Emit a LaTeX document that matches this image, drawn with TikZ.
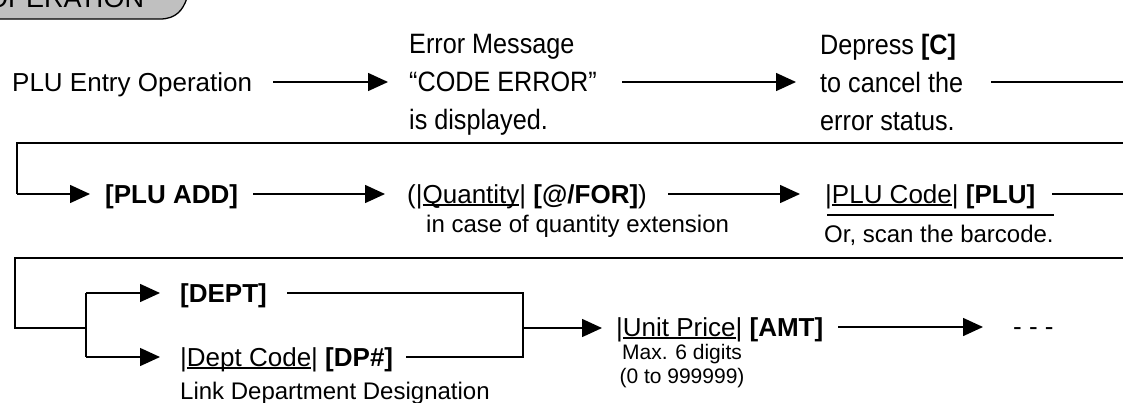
\documentclass[tikz,border=0pt]{standalone}
\usepackage{fontspec}
\setmainfont{Liberation Sans}
\newfontfamily\narrowfont[FakeStretch=0.9]{Liberation Sans}
\usetikzlibrary{arrows.meta}
\definecolor{tabgray}{RGB}{192,192,192}
\newcommand\ulx[1]{\setbox0=\hbox{#1}\rlap{\rule[-2.5pt]{\wd0}{1.2pt}}\box0}
\tikzset{
  conn/.style={line width=1.5pt},
  arr/.style={conn, -{Triangle[length=20pt,width=18pt]}},
  txt/.style={inner sep=0pt, font=\fontsize{26}{36}\selectfont},
  ntxt/.style={inner sep=0pt, font=\narrowfont\fontsize{28}{38}\selectfont},
  note/.style={inner sep=0pt, font=\fontsize{24}{28}\selectfont},
  small/.style={inner sep=0pt, font=\fontsize{21}{24}\selectfont},
  rulestyle/.style={line width=1.5pt}
}
\begin{document}
\begin{tikzpicture}[x=1pt,y=-1pt]
\useasboundingbox (0,0) rectangle (1123,402);
\begin{scope}
\clip (0,0) rectangle (1123,402);
% tab
\draw[line width=1.3pt, fill=tabgray] (-30,-40) -- (-30,19) -- (160,19)
  .. controls (176,19) and (183,10) .. (187,-2) -- (190,-40) -- cycle;
\node[inner sep=0pt, font=\fontsize{27}{27}\selectfont, anchor=base west] (tab) at (-13,7) {OPERATION};

% row coordinates
\coordinate (r1) at (0,82);
\coordinate (r2) at (0,194);
\coordinate (r3) at (0,327);
\coordinate (r3a) at (0,293);
\coordinate (r3b) at (0,357);
\coordinate (e1) at (1130,82);
\coordinate (t2r) at (1130,143);
\coordinate (t2l) at (17,143);
\coordinate (e2) at (1130,194);
\coordinate (t3r) at (1130,258);
\coordinate (t3l) at (15,258);
\coordinate (br) at (86,328);
\coordinate (mj) at (523,328);

% row 1
\node[txt, anchor=base west] (entry) at (12,91) {PLU Entry Operation};
\node[ntxt, anchor=north west, align=left] (err) at (409,34) {Error Message\\“CODE ERROR”\\is displayed.};
\node[ntxt, anchor=north west, align=left] (dep) at (820,33.6) {Depress \textbf{[C]}\\to cancel the\\error status.};
\draw[arr] ([xshift=21pt]entry.east |- r1) -- ([xshift=-21pt]err.west |- r1);
\draw[arr] ([xshift=25pt]err.east |- r1) -- ([xshift=-24pt]dep.west |- r1);
\draw[conn] ([xshift=28pt]dep.east |- r1) -- (e1);

% row 2
\node[txt, anchor=base west] (add) at (105,203) {\textbf{[PLU ADD]}};
\node[txt, anchor=base west] (qty) at (407,203) {(|\ulx{Quantity}| \textbf{[@/FOR]})};
\node[note, anchor=base west] (qtynote) at (426,232.6) {in case of quantity extension};
\node[txt, anchor=base west] (code) at (825,203) {|\ulx{PLU Code}| \textbf{[PLU]}};
\node[note, anchor=base west] (scan) at (824,242.6) {Or, scan the barcode.};
\draw[conn] (t2r) -- (t2l) -- (t2l |- r2);
\draw[arr] (t2l |- r2) -- ([xshift=-15pt]add.west |- r2);
\draw[arr] ([xshift=15pt]add.east |- r2) -- ([xshift=-22pt]qty.west |- r2);
\draw[arr] ([xshift=21pt]qty.east |- r2) -- ([xshift=-25pt]code.west |- r2);
\draw[conn] ([xshift=17pt]code.east |- r2) -- (e2);
\draw[rulestyle] ([xshift=3pt,yshift=10pt]scan.north west) -- ([yshift=10pt]scan.north east);

% row 3
\node[txt, anchor=base west] (dept) at (180,302) {\textbf{[DEPT]}};
\node[txt, anchor=base west] (dpc) at (180,366) {|\ulx{Dept Code}| \textbf{[DP\#]}};
\node[note, anchor=base west] (link) at (180,399) {Link Department Designation};
\node[txt, anchor=base west] (price) at (616,336) {|\ulx{Unit Price}| \textbf{[AMT]}};
\node[small, align=center] (maxn) at (682,366) {Max. 6 digits\\(0 to 999999)};
\node[txt, anchor=base west] (dots) at (1013,335) {- - -};
\draw[conn] (t3r) -- (t3l) |- (br);
\draw[conn] (br |- r3a) -- (br |- r3b);
\draw[arr] (br |- r3a) -- ([xshift=-20pt]dept.west |- r3a);
\draw[arr] (br |- r3b) -- ([xshift=-20pt]dpc.west |- r3b);
\draw[conn] ([xshift=20pt]dept.east |- r3a) -| (mj);
\draw[conn] ([xshift=13pt]dpc.east |- r3b) -| (mj);
\draw[arr] (mj) -- ([xshift=-14pt]price.west |- mj);
\draw[arr] ([xshift=15pt]price.east |- r3) -- ([xshift=-30pt]dots.west |- r3);
\end{scope}
\end{tikzpicture}
\end{document}
